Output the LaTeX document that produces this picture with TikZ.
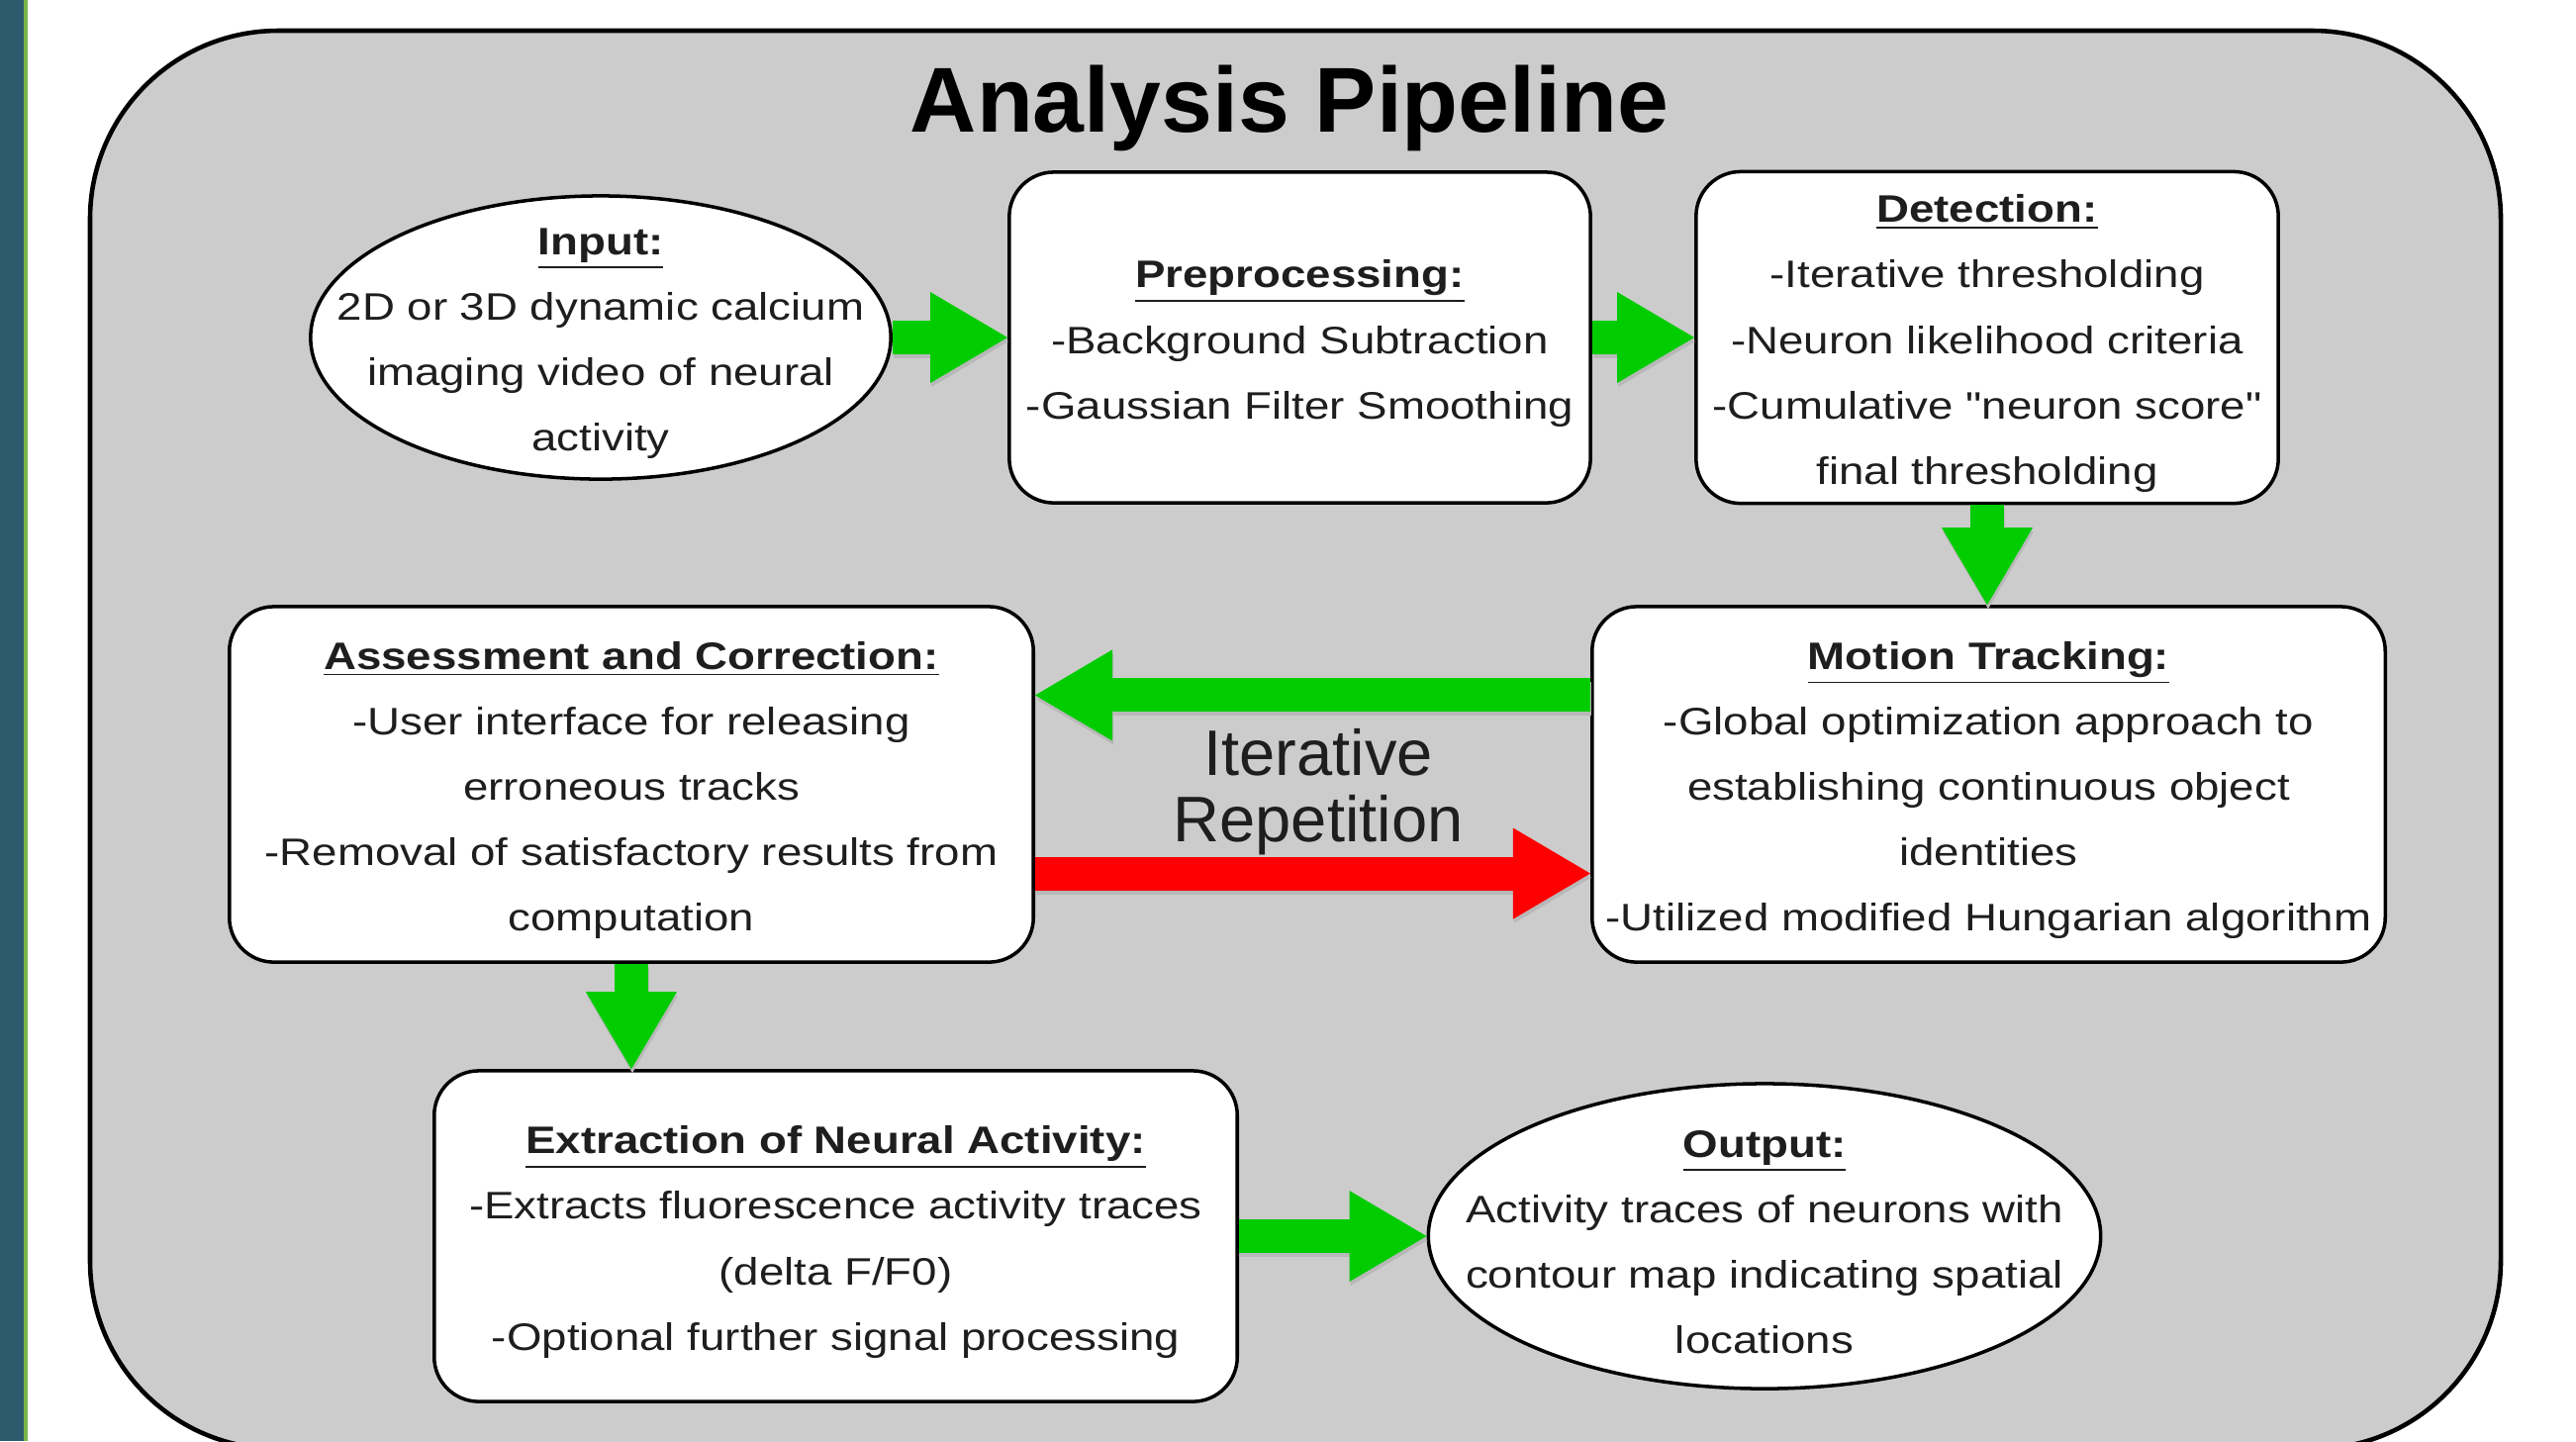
\documentclass[tikz,border=0pt]{standalone}
\usepackage{fontspec}
\setmainfont{Liberation Sans}
\newfontfamily\bodyfont[FakeStretch=1.18]{Liberation Sans}
\usetikzlibrary{shapes.geometric,arrows.meta,calc}
\definecolor{stripblue}{HTML}{2E5A6E}
\definecolor{stripgreen}{HTML}{7AB648}
\definecolor{panelgray}{HTML}{CCCCCC}
\definecolor{arrgreen}{HTML}{00CC00}
\definecolor{arrred}{HTML}{FF0000}
\definecolor{txtcol}{HTML}{1E1E1E}
\tikzset{
  stagebox/.style={draw=black, line width=1pt, fill=white, rounded corners=0.45cm, inner sep=0pt},
  stageoval/.style={ellipse, draw=black, line width=1pt, fill=white, inner sep=0pt},
  bodytxt/.style={align=center, text=txtcol, inner sep=0pt,
    font=\bodyfont\fontsize{11}{18.8}\selectfont},
  fatarrow/.style={line width=0.34cm,
    -{Triangle[length=0.78cm 0 0, width=0.92cm 0 0, line width=0pt]}},
  garrow/.style={fatarrow, draw=arrgreen, fill=arrgreen},
  rarrow/.style={fatarrow, draw=arrred, fill=arrred},
  sharrow/.style={fatarrow, draw=black!28, fill=black!28, transform canvas={shift={(1,4)}}},
}
\begin{document}
\begin{tikzpicture}[x=0.01cm, y=-0.01cm]
\useasboundingbox (0,0) rectangle (2603,1456);
\begin{scope}
\clip (0,0) rectangle (2603,1456);
\fill[white] (0,0) rectangle (2603,1456);
\fill[stripblue] (0,0) rectangle (24,1456);
\fill[stripgreen] (24,0) rectangle (28,1456);
\draw[fill=panelgray, draw=black, line width=1.3pt, rounded corners=1.9cm] (91,31) rectangle (2527,1464);
\end{scope}

\node[anchor=base, font=\fontsize{26.5}{30}\selectfont\bfseries, text=black] (title) at (1303,133) {Analysis Pipeline};

% shapes
\node[stageoval, minimum width=5.86cm, minimum height=2.86cm] (inp) at (607,341) {};
\node[stagebox, minimum width=5.87cm, minimum height=3.34cm] (pre) at (1313.5,341) {};
\node[stagebox, minimum width=5.88cm, minimum height=3.35cm] (det) at (2008,341) {};
\node[stagebox, minimum width=8.01cm, minimum height=3.59cm] (mot) at (2009.5,792.5) {};
\node[stagebox, minimum width=8.12cm, minimum height=3.59cm] (ass) at (638,792.5) {};
\node[stagebox, minimum width=8.11cm, minimum height=3.34cm] (ext) at (844.5,1249) {};
\node[stageoval, minimum width=6.79cm, minimum height=3.08cm] (out) at (1783,1249) {};

% texts
\node[bodytxt] (inpT) at ([yshift=-0.06cm]inp.center) {\underline{\textbf{Input:}}\\2D or 3D dynamic calcium\\imaging video of neural\\activity};
\node[bodytxt] (preT) at ([yshift=-0.06cm]pre.center) {\underline{\textbf{Preprocessing:}}\\-Background Subtraction\\-Gaussian Filter Smoothing};
\node[bodytxt] (detT) at ([yshift=-0.06cm]det.center) {\underline{\textbf{Detection:}}\\-Iterative thresholding\\-Neuron likelihood criteria\\-Cumulative "neuron score"\\final thresholding};
\node[bodytxt] (motT) at ([yshift=-0.06cm]mot.center) {\underline{\textbf{Motion Tracking:}}\\-Global optimization approach to\\establishing continuous object\\identities\\-Utilized modified Hungarian algorithm};
\node[bodytxt] (assT) at ([yshift=-0.06cm]ass.center) {\underline{\textbf{Assessment and Correction:}}\\-User interface for releasing\\erroneous tracks\\-Removal of satisfactory results from\\computation};
\node[bodytxt] (extT) at ([yshift=-0.06cm]ext.center) {\underline{\textbf{Extraction of Neural Activity:}}\\-Extracts fluorescence activity traces\\(delta F/F0)\\-Optional further signal processing};
\node[bodytxt] (outT) at ([yshift=-0.06cm]out.center) {\underline{\textbf{Output:}}\\Activity traces of neurons with\\contour map indicating spatial\\locations};

\node[align=center, text=txtcol, inner sep=0pt, font=\fontsize{18.5}{19.2}\selectfont] (iter) at (1332,800) {Iterative\\Repetition};

% arrow shadows
\draw[sharrow] (inp.east) -- (inp.east -| pre.west);
\draw[sharrow] (pre.east) -- (pre.east -| det.west);
\draw[sharrow] (det.south) -- (det.south |- mot.north);
\draw[sharrow] ([yshift=0.9cm]mot.west) -- ([yshift=0.9cm]mot.west -| ass.east);
\draw[sharrow] ([yshift=-0.9cm]ass.east) -- ([yshift=-0.9cm]ass.east -| mot.west);
\draw[sharrow] (ass.south) -- (ass.south |- ext.north);
\draw[sharrow] (ext.east) -- (ext.east -| out.west);

% arrows
\draw[garrow] (inp.east) -- (inp.east -| pre.west);
\draw[garrow] (pre.east) -- (pre.east -| det.west);
\draw[garrow] (det.south) -- (det.south |- mot.north);
\draw[garrow] ([yshift=0.9cm]mot.west) -- ([yshift=0.9cm]mot.west -| ass.east);
\draw[rarrow] ([yshift=-0.9cm]ass.east) -- ([yshift=-0.9cm]ass.east -| mot.west);
\draw[garrow] (ass.south) -- (ass.south |- ext.north);
\draw[garrow] (ext.east) -- (ext.east -| out.west);
\end{tikzpicture}
\end{document}
